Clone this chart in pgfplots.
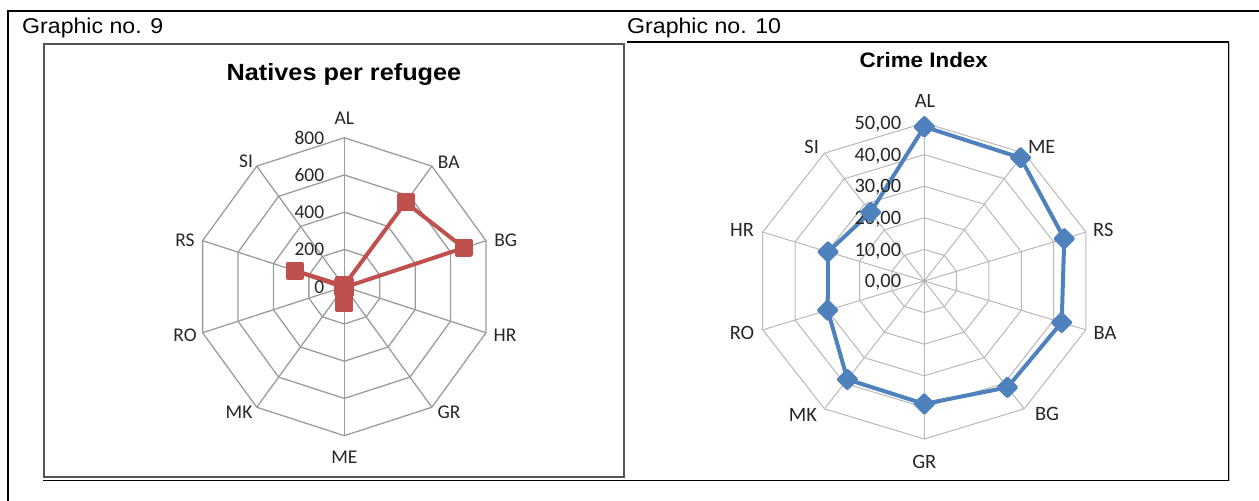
\documentclass[border=0pt]{standalone}
\usepackage{pgfplots}
\pgfplotsset{compat=1.18}
\usepackage{fontspec}
\setmainfont{Liberation Sans}
\newfontfamily\calibri{Carlito}

\definecolor{gridgrayA}{HTML}{9C9C9C}
\definecolor{gridgrayB}{HTML}{B8B8B8}
\definecolor{natred}{HTML}{C0504D}
\definecolor{crimeblue}{HTML}{4F81BD}
\definecolor{boxgray}{HTML}{555555}
\definecolor{labgray}{HTML}{262626}

% Natives per refugee (angle in degrees, value)
\pgfplotstableread{
ang  val
90   8
54   560
18   675
-18  6
-54  6
-90  90
-126 6
-162 6
162  280
126  6
90   8
}\natives

% Crime index (angle in degrees, value)
\pgfplotstableread{
ang  val
90   48.8
54   48.2
18   43.3
-18  42.5
-54  41.6
-90  38.9
-126 38.5
-162 29.9
162  29.8
126  26.9
90   48.8
}\crime

\newcommand\lablA{\calibri\fontsize{19.5}{22}\selectfont\color{labgray}}
\newcommand\lablB{\calibri\fontsize{20.5}{23}\selectfont\color{labgray}}

\begin{document}
\begin{tikzpicture}[x=1bp,y=1bp]
\useasboundingbox (0,0) rectangle (1259,-501);

% page frame
\draw[line width=2bp] (7.5,-501) -- (7.5,-11) -- (1259,-11);

\node[anchor=base west, inner sep=0, font=\fontsize{21.5}{25}\selectfont]
  at (22,-33.3) {\scalebox{1.08}[1]{Graphic no. 9}};
\node[anchor=base west, inner sep=0, font=\fontsize{21.5}{25}\selectfont]
  at (627,-33.3) {\scalebox{1.08}[1]{Graphic no. 10}};

% chart frames
\draw[boxgray, line width=2bp] (43.5,-44.5) rectangle (623.5,-477);
\draw[black, line width=1.4bp] (43,-480.3) -- (1228.3,-480.3) -- (1228.3,-42) -- (627,-42);
\draw[gray!50, line width=0.8bp] (1229.8,-43) -- (1229.8,-481);

% titles
\node[anchor=base, inner sep=0, font=\bfseries\fontsize{23.5}{27}\selectfont]
  at (344,-80.7) {\scalebox{1.08}[1]{Natives per refugee}};
\node[anchor=base, inner sep=0, font=\bfseries\fontsize{21}{25}\selectfont]
  at (923.8,-67.3) {\scalebox{1.07}[1]{Crime Index}};

% ---------------- Natives per refugee ----------------
\begin{axis}[
  at={(344.3bp,-286.7bp)}, anchor=center,
  x=0.18625bp, y=0.18625bp,
  xmin=-800, xmax=800, ymin=-800, ymax=800,
  hide axis, clip=false,
]
\pgfplotsinvokeforeach{90,54,18,-18,-54,-90,-126,-162,162,126}{
  \addplot[gridgrayA, line width=1.3bp, data cs=polar] coordinates {(#1,0) (#1,800)};
}
\pgfplotsinvokeforeach{200,400,600,800}{
  \addplot[gridgrayA, line width=1.3bp, data cs=polar] coordinates
    {(90,#1) (54,#1) (18,#1) (-18,#1) (-54,#1) (-90,#1) (-126,#1) (-162,#1) (162,#1) (126,#1) (90,#1)};
}
\addplot[natred, line width=4bp, line join=round, data cs=polar,
  mark=square*, mark size=7bp, mark options={solid, fill=natred}]
  table[x=ang, y=val] {\natives};

\pgfplotsinvokeforeach{0,200,400,600,800}{
  \node[anchor=east, inner sep=0, text depth=0pt, font=\lablA, xshift=-20bp] at (axis cs:0,#1) {#1};
}
\node[font=\lablA, inner sep=0] at (axis cs:0,0) [xshift=0bp,    yshift=168.7bp]  {AL};
\node[font=\lablA, inner sep=0] at (axis cs:0,0) [xshift=104.4bp, yshift=124bp]   {BA};
\node[font=\lablA, inner sep=0] at (axis cs:0,0) [xshift=161.4bp, yshift=46.7bp]  {BG};
\node[font=\lablA, inner sep=0] at (axis cs:0,0) [xshift=160.7bp, yshift=-48.3bp] {HR};
\node[font=\lablA, inner sep=0] at (axis cs:0,0) [xshift=104.7bp, yshift=-125.3bp]{GR};
\node[font=\lablA, inner sep=0] at (axis cs:0,0) [xshift=0bp,    yshift=-170.6bp] {ME};
\node[font=\lablA, inner sep=0] at (axis cs:0,0) [xshift=-105.3bp,yshift=-125.3bp]{MK};
\node[font=\lablA, inner sep=0] at (axis cs:0,0) [xshift=-159.3bp,yshift=-48.3bp] {RO};
\node[font=\lablA, inner sep=0] at (axis cs:0,0) [xshift=-159.3bp,yshift=46.7bp]  {RS};
\node[font=\lablA, inner sep=0] at (axis cs:0,0) [xshift=-98.3bp, yshift=125bp]   {SI};
\end{axis}

% ---------------- Crime Index ----------------
\begin{axis}[
  at={(924.3bp,-281bp)}, anchor=center,
  x=3.398bp, y=3.16bp,
  xmin=-50, xmax=50, ymin=-50, ymax=50,
  hide axis, clip=false,
]
\pgfplotsinvokeforeach{90,54,18,-18,-54,-90,-126,-162,162,126}{
  \addplot[gridgrayB, line width=1bp, data cs=polar] coordinates {(#1,0) (#1,50)};
}
\pgfplotsinvokeforeach{10,20,30,40,50}{
  \addplot[gridgrayB, line width=1bp, data cs=polar] coordinates
    {(90,#1) (54,#1) (18,#1) (-18,#1) (-54,#1) (-90,#1) (-126,#1) (-162,#1) (162,#1) (126,#1) (90,#1)};
}
\addplot[crimeblue, line width=4bp, line join=round, data cs=polar,
  mark=square*, mark size=6bp, mark options={solid, fill=crimeblue, rotate=45}]
  table[x=ang, y=val] {\crime};

\node[anchor=east, inner sep=0, text depth=0pt, font=\lablB, xshift=-23bp] at (axis cs:0,0)  {0,00};
\node[anchor=east, inner sep=0, text depth=0pt, font=\lablB, xshift=-23bp] at (axis cs:0,10) {10,00};
\node[anchor=east, inner sep=0, text depth=0pt, font=\lablB, xshift=-23bp] at (axis cs:0,20) {20,00};
\node[anchor=east, inner sep=0, text depth=0pt, font=\lablB, xshift=-23bp] at (axis cs:0,30) {30,00};
\node[anchor=east, inner sep=0, text depth=0pt, font=\lablB, xshift=-23bp] at (axis cs:0,40) {40,00};
\node[anchor=east, inner sep=0, text depth=0pt, font=\lablB, xshift=-23bp] at (axis cs:0,50) {50,00};

\node[font=\lablB, inner sep=0] at (axis cs:0,0) [xshift=0.7bp,   yshift=180.3bp]  {AL};
\node[font=\lablB, inner sep=0] at (axis cs:0,0) [xshift=117.4bp, yshift=134.3bp]  {ME};
\node[font=\lablB, inner sep=0] at (axis cs:0,0) [xshift=179bp,   yshift=51bp]     {RS};
\node[font=\lablB, inner sep=0] at (axis cs:0,0) [xshift=180.7bp, yshift=-52bp]    {BA};
\node[font=\lablB, inner sep=0] at (axis cs:0,0) [xshift=122.7bp, yshift=-133bp]   {BG};
\node[font=\lablB, inner sep=0] at (axis cs:0,0) [xshift=0bp,     yshift=-181bp]   {GR};
\node[font=\lablB, inner sep=0] at (axis cs:0,0) [xshift=-121.3bp,yshift=-134bp]   {MK};
\node[font=\lablB, inner sep=0] at (axis cs:0,0) [xshift=-182.3bp,yshift=-52bp]    {RO};
\node[font=\lablB, inner sep=0] at (axis cs:0,0) [xshift=-182.3bp,yshift=51bp]     {HR};
\node[font=\lablB, inner sep=0] at (axis cs:0,0) [xshift=-112.6bp,yshift=134.3bp]  {SI};
\end{axis}
\end{tikzpicture}
\end{document}
